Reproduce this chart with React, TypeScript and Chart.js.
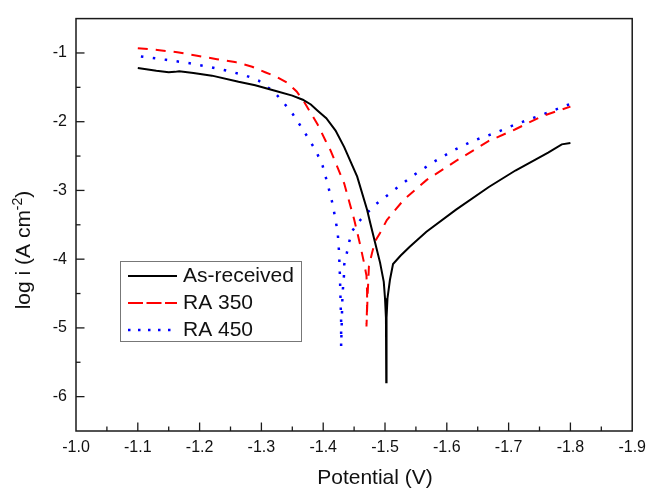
import React, { useEffect, useRef } from "react";
import { Chart, registerables } from "chart.js";

Chart.register(...registerables);

const FONT = "'Liberation Sans', Arial, sans-serif";

const seriesLabels = ["As-received", "RA 350", "RA 450"];
const seriesColors = ["#000000", "#ff0000", "#0000ff"];

const asReceivedX = [-1.100, -1.130, -1.150, -1.160, -1.167, -1.190, -1.220, -1.263, -1.290, -1.322, -1.350, -1.367, -1.380, -1.391, -1.405, -1.420, -1.434, -1.455, -1.471, -1.476, -1.484, -1.492, -1.498, -1.500, -1.5015, -1.502, -1.5025, -1.504, -1.508, -1.513, -1.525, -1.540, -1.567, -1.615, -1.668, -1.711, -1.764, -1.786, -1.800];
const asReceivedY = [-1.22, -1.26, -1.28, -1.275, -1.265, -1.29, -1.33, -1.42, -1.47, -1.55, -1.62, -1.68, -1.75, -1.84, -1.95, -2.13, -2.37, -2.80, -3.28, -3.47, -3.76, -4.05, -4.33, -4.57, -4.85, -5.79, -4.85, -4.57, -4.30, -4.07, -3.95, -3.82, -3.60, -3.28, -2.95, -2.71, -2.45, -2.33, -2.31];

const ra350X = [-1.100, -1.135, -1.164, -1.196, -1.228, -1.257, -1.285, -1.306, -1.325, -1.343, -1.357, -1.369, -1.391, -1.404, -1.412, -1.434, -1.450, -1.459, -1.466, -1.470, -1.471, -1.471, -1.470, -1.472, -1.474, -1.479, -1.484, -1.492, -1.503, -1.530, -1.567, -1.615, -1.668, -1.711, -1.754, -1.800];
const ra350Y = [-0.93, -0.96, -0.99, -1.04, -1.09, -1.13, -1.20, -1.28, -1.35, -1.44, -1.56, -1.71, -2.04, -2.28, -2.42, -2.90, -3.42, -3.76, -4.05, -4.24, -4.48, -4.67, -4.98, -4.50, -4.10, -3.91, -3.74, -3.62, -3.43, -3.14, -2.85, -2.57, -2.28, -2.11, -1.92, -1.78];

const ra450X = [-1.105, -1.146, -1.184, -1.220, -1.250, -1.275, -1.295, -1.321, -1.348, -1.369, -1.388, -1.399, -1.407, -1.415, -1.420, -1.4235, -1.4255, -1.427, -1.428, -1.429, -1.429, -1.431, -1.432, -1.4335, -1.434, -1.438, -1.442, -1.447, -1.460, -1.484, -1.514, -1.546, -1.578, -1.610, -1.642, -1.679, -1.711, -1.748, -1.783, -1.800];
const ra450Y = [-1.05, -1.10, -1.15, -1.21, -1.27, -1.33, -1.40, -1.57, -1.85, -2.14, -2.42, -2.64, -2.90, -3.19, -3.43, -3.62, -3.88, -4.23, -4.57, -4.91, -5.27, -4.58, -4.42, -4.25, -4.08, -3.92, -3.75, -3.59, -3.43, -3.21, -3.00, -2.78, -2.59, -2.42, -2.28, -2.16, -2.04, -1.92, -1.80, -1.74];

const xTickValues = [-1.0, -1.1, -1.2, -1.3, -1.4, -1.5, -1.6, -1.7, -1.8, -1.9];
const yTickValues = [-1, -2, -3, -4, -5, -6];
const xMinorStep = 0.05;
const yMinorStep = 0.5;

const xTitle = "Potential (V)";
const yTitleMain = "log i (A cm";
const yTitleSup = "-2";
const yTitleEnd = ")";

function toPoints(xs: number[], ys: number[]) {
  return xs.map((x, i) => ({ x, y: ys[i] }));
}

const framePlugin = {
  id: "frameAndExtras",
  afterDraw(chart: any) {
    const ctx = chart.ctx as CanvasRenderingContext2D;
    const { left, right, top, bottom } = chart.chartArea;
    const xs = chart.scales.x;
    const ys = chart.scales.y;
    ctx.save();
    ctx.strokeStyle = "#1a1a1a";
    ctx.lineWidth = 1.5;
    ctx.strokeRect(left, top, right - left, bottom - top);
    ctx.lineWidth = 1.3;
    const xMin = xs.min, xMax = xs.max;
    const nx = Math.round((xMax - xMin) / xMinorStep);
    for (let i = 1; i < nx; i++) {
      const v = xMin + i * xMinorStep;
      const px = xs.getPixelForValue(v);
      const major = i % 2 === 0;
      const len = major ? 8.5 : 4.5;
      ctx.beginPath();
      ctx.moveTo(px, bottom);
      ctx.lineTo(px, bottom - len);
      ctx.stroke();
    }
    const yMin = ys.min, yMax = ys.max;
    const ny = Math.round((yMax - yMin) / yMinorStep);
    for (let i = 1; i < ny; i++) {
      const v = yMin + i * yMinorStep;
      const py = ys.getPixelForValue(v);
      const major = Math.abs(v - Math.round(v)) < 1e-6;
      const len = major ? 8.5 : 4.5;
      ctx.beginPath();
      ctx.moveTo(left, py);
      ctx.lineTo(left + len, py);
      ctx.stroke();
    }

    ctx.fillStyle = "#111";
    ctx.font = `21px ${FONT}`;
    ctx.textAlign = "center";
    ctx.textBaseline = "alphabetic";
    ctx.fillText(xTitle, 375, 484);

    ctx.save();
    ctx.translate(30, 250);
    ctx.rotate(-Math.PI / 2);
    ctx.textAlign = "left";
    ctx.font = `21px ${FONT}`;
    const w1 = ctx.measureText(yTitleMain).width;
    const w3 = ctx.measureText(yTitleEnd).width;
    ctx.font = `14px ${FONT}`;
    const w2 = ctx.measureText(yTitleSup).width;
    const total = w1 + w2 + w3;
    let cx = -total / 2;
    ctx.font = `21px ${FONT}`;
    ctx.fillText(yTitleMain, cx, 0);
    cx += w1;
    ctx.font = `14px ${FONT}`;
    ctx.fillText(yTitleSup, cx, -8);
    cx += w2;
    ctx.font = `21px ${FONT}`;
    ctx.fillText(yTitleEnd, cx, 0);
    ctx.restore();

    const bx = 120.5, by = 261.5, bw = 181, bh = 80;
    ctx.fillStyle = "#fff";
    ctx.fillRect(bx, by, bw, bh);
    ctx.strokeStyle = "#777";
    ctx.lineWidth = 1;
    ctx.strokeRect(bx, by, bw, bh);
    const rowYs = [276, 303, 330];
    const legendDash = [[], [15, 3.5], [2.5, 7.5]];
    const legendWidth = [2, 2, 2.5];
    chart.data.datasets.forEach((ds: any, i: number) => {
      const ry = rowYs[i];
      ctx.strokeStyle = ds.borderColor;
      ctx.lineWidth = legendWidth[i];
      ctx.setLineDash(legendDash[i]);
      ctx.beginPath();
      ctx.moveTo(128, ry);
      ctx.lineTo(177, ry);
      ctx.stroke();
      ctx.setLineDash([]);
      ctx.fillStyle = "#111";
      ctx.font = `21px ${FONT}`;
      ctx.textAlign = "left";
      ctx.textBaseline = "middle";
      ctx.fillText(ds.label, 183, ry);
    });
    ctx.restore();
  },
};

export default function App() {
  const ref = useRef<HTMLCanvasElement | null>(null);
  useEffect(() => {
    if (!ref.current) return;
    const chart = new Chart(ref.current, {
      type: "scatter",
      data: {
        datasets: [
          {
            label: seriesLabels[0],
            data: toPoints(asReceivedX, asReceivedY),
            borderColor: seriesColors[0],
            backgroundColor: seriesColors[0],
            borderWidth: 2,
            showLine: true,
            pointRadius: 0,
            tension: 0,
          },
          {
            label: seriesLabels[1],
            data: toPoints(ra350X, ra350Y),
            borderColor: seriesColors[1],
            backgroundColor: seriesColors[1],
            borderWidth: 2,
            borderDash: [10, 8],
            showLine: true,
            pointRadius: 0,
            tension: 0,
          },
          {
            label: seriesLabels[2],
            data: toPoints(ra450X, ra450Y),
            borderColor: seriesColors[2],
            backgroundColor: seriesColors[2],
            borderWidth: 2.5,
            borderDash: [2.5, 9.5],
            showLine: true,
            pointRadius: 0,
            tension: 0,
          },
        ],
      },
      options: {
        responsive: false,
        animation: false,
        events: [],
        layout: { padding: { left: 0, top: 12, right: 15, bottom: 0 } },
        plugins: {
          legend: { display: false },
          tooltip: { enabled: false },
          title: { display: false },
        },
        scales: {
          x: {
            type: "linear",
            min: -1.9,
            max: -1.0,
            reverse: true,
            grid: { display: false, drawTicks: false },
            border: { display: false },
            afterBuildTicks: (scale: any) => {
              scale.ticks = xTickValues.map((v) => ({ value: v }));
            },
            afterFit: (scale: any) => {
              scale.height = 57;
            },
            ticks: {
              padding: 7,
              color: "#111",
              font: { family: FONT, size: 16 },
              maxRotation: 0,
              autoSkip: false,
              callback: (v: any) => Number(v).toFixed(1),
            },
          },
          y: {
            type: "linear",
            min: -6.5,
            max: -0.5,
            grid: { display: false, drawTicks: false },
            border: { display: false },
            afterBuildTicks: (scale: any) => {
              scale.ticks = yTickValues.map((v) => ({ value: v }));
            },
            afterFit: (scale: any) => {
              scale.width = 76;
            },
            ticks: {
              padding: 9,
              color: "#111",
              font: { family: FONT, size: 16 },
              autoSkip: false,
              callback: (v: any) => String(Number(v)),
            },
          },
        },
      },
      plugins: [framePlugin],
    });
    return () => chart.destroy();
  }, []);
  return (
    <div style={{ position: "absolute", left: 0, top: 0, width: 653, height: 488, background: "#fff" }}>
      <canvas ref={ref} width={653} height={488} style={{ display: "block" }} />
    </div>
  );
}
